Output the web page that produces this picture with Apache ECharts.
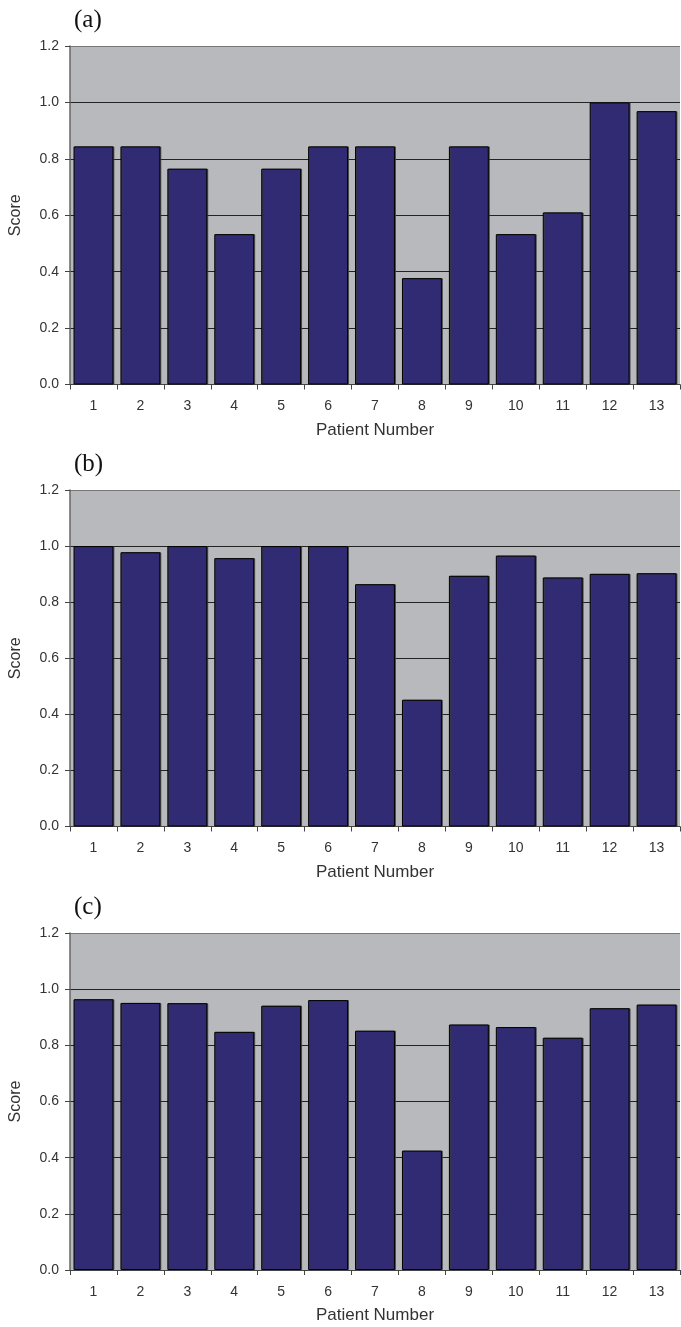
<!DOCTYPE html>
<html>
<head>
<meta charset="utf-8">
<script src="https://cdn.jsdelivr.net/npm/echarts@6/dist/echarts.min.js"></script>
<style>
html,body{margin:0;padding:0;background:#fff;}
#chart{width:681px;height:1327px;}
</style>
</head>
<body>
<div id="chart"></div>
<script>
const categories = ['1','2','3','4','5','6','7','8','9','10','11','12','13'];
const scoresA = [0.844,0.844,0.765,0.533,0.765,0.844,0.844,0.377,0.844,0.533,0.610,1.000,0.969];
const scoresB = [1.000,0.978,1.000,0.957,1.000,1.000,0.864,0.452,0.894,0.966,0.888,0.901,0.903];
const scoresC = [0.964,0.951,0.950,0.848,0.941,0.961,0.852,0.425,0.874,0.865,0.827,0.932,0.945];
const panelLabels = ['(a)','(b)','(c)'];
const xAxisTitle = 'Patient Number';
const yAxisTitle = 'Score';
const yMin = 0, yMax = 1.2, yStep = 0.2;

const allSeries = [scoresA, scoresB, scoresC];
const gridTops = [46, 490, 933];
const gridHeights = [338.5, 336.5, 337];

const chart = echarts.init(document.getElementById('chart'), null, {renderer:'canvas'});
const sansFont = '"Liberation Sans", Arial, sans-serif';

const option = {
  animation: false,
  backgroundColor: '#ffffff',
  title: panelLabels.map((t, i) => ({
    text: t,
    left: 69,
    top: gridTops[i] - 43,
    textStyle: {fontFamily: '"Liberation Serif", "Times New Roman", serif', fontSize: 25, fontWeight: 'normal', color: '#111'}
  })),
  grid: gridTops.map((t, i) => ({
    left: 66, width: 614, top: t, height: gridHeights[i],
    show: true, backgroundColor: '#B8B9BD', borderWidth: 0, containLabel: false
  })),
  xAxis: allSeries.map((s, i) => ({
    type: 'category', gridIndex: i, data: categories,
    boundaryGap: true,
    name: xAxisTitle, nameLocation: 'middle', nameGap: 37,
    nameTextStyle: {fontFamily: sansFont, fontSize: 17, color: '#333'},
    axisLine: {show: true, onZero: false, lineStyle: {color: '#444', width: 1}},
    axisTick: {show: true, length: 5, lineStyle: {color: '#444'}},
    axisLabel: {fontFamily: sansFont, fontSize: 14, color: '#333', margin: 15},
    splitLine: {show: false}
  })),
  yAxis: allSeries.map((s, i) => ({
    type: 'value', gridIndex: i, min: yMin, max: yMax, interval: yStep,
    name: yAxisTitle, nameLocation: 'middle', nameGap: 46, nameRotate: 90,
    nameTextStyle: {fontFamily: sansFont, fontSize: 16, color: '#333'},
    axisLine: {show: true, lineStyle: {color: '#666', width: 1.5}},
    axisTick: {show: true, length: 5, lineStyle: {color: '#444'}},
    axisLabel: {fontFamily: sansFont, fontSize: 14, color: '#333', margin: 11,
      formatter: v => v.toFixed(1)},
    splitLine: {show: true, lineStyle: {color: ['#333','#222','#222','#222','#222','#222','#777'], width: 1}}
  })),
  series: allSeries.map((s, i) => ({
    type: 'bar', xAxisIndex: i, yAxisIndex: i, data: s,
    barCategoryGap: '15%',
    itemStyle: {color: '#312B74', borderColor: '#000', borderWidth: 1,
      shadowColor: 'rgba(60,60,60,0.8)', shadowOffsetX: 1, shadowOffsetY: 0, shadowBlur: 0},
    emphasis: {disabled: true}
  }))
};
chart.setOption(option);
</script>
</body>
</html>
